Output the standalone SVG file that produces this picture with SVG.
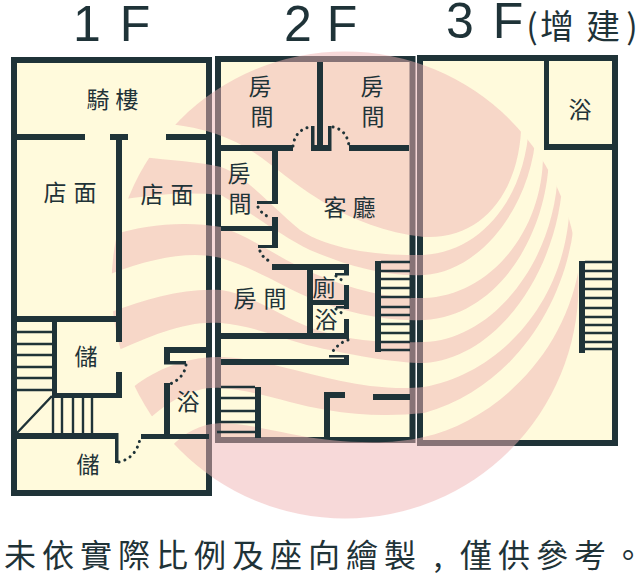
<svg xmlns="http://www.w3.org/2000/svg" width="640" height="573" viewBox="0 0 640 573">
<style>
.floor{fill:#FFFADC}
.outer{fill:none;stroke:#1F3338;stroke-width:6}
.w{fill:#1F3338}
.step{stroke:#1F3338;stroke-width:2.4;fill:none}
.dot{fill:none;stroke:#1F3338;stroke-width:3;stroke-linecap:round;stroke-dasharray:0.1 6}
.mark{fill:#F0B4B4;fill-opacity:.5}
.t{font-family:"Noto Sans CJK TC","Noto Sans CJK SC",sans-serif;font-weight:400;fill:#1F3338;font-size:23px;text-anchor:middle}
.h{font-family:"Liberation Sans",Arial,sans-serif;fill:#1F3338;font-size:50px;text-anchor:middle}
</style>
<defs><clipPath id="disc"><circle cx="345" cy="285" r="233.500"/></clipPath></defs>
<rect width="640" height="573" fill="#fff"/>
<g id="floors">
<rect class="floor" x="14" y="60" width="195" height="433"/>
<rect class="floor" x="218" y="59" width="194.500" height="381"/>
<rect class="floor" x="420" y="58" width="195" height="385"/>
<rect class="outer" x="14" y="60" width="195" height="433"/>
<rect class="outer" x="218" y="59" width="194.500" height="381"/>
<rect class="outer" x="420" y="58" width="195" height="385"/>
</g>
<g id="watermark" clip-path="url(#disc)">
<path class="mark" d="M100,122 L170,124 C205,128 235,138 262,158 C300,186 345,228 424,237 C490,240 525,180 521,110 L600,0 L100,0Z"/>
<path class="mark" d="M140,157 C170,160 200,162 221,167 C245,175 270,205 300,230 C330,250 380,256 424,255 C480,252 525,200 529,125 L536,130 C533,205 480,272 424,275 C385,277 345,265 310,250 C280,235 250,212 221,195 C190,192 160,194 125,199Z"/>
<path class="mark" d="M105,238 C135,226 180,220 221,227 C250,236 285,262 313,273 C345,287 385,299 424,298 C490,296 545,230 543,150 L549,150 C550,230 500,316 424,320 C385,322 345,312 310,298 C285,288 255,268 221,258 C190,250 150,258 105,276Z"/>
<path class="mark" d="M105,314 C145,300 180,288 221,290 C255,295 285,320 320,331 C355,342 390,343 424,342 C490,340 555,265 558,170 L563,170 C562,265 500,358 424,363 C395,363 350,355 307,345 C280,338 250,325 221,323 C185,320 150,336 105,356Z"/>
<path class="mark" d="M130,390 C150,372 185,356 221,357 C265,358 320,380 370,386 C390,388 405,389 424,387 C495,375 570,305 570,195 L575,195 C578,280 525,385 424,413 C395,416 360,416 327,410 C290,404 255,390 221,388 C195,386 170,400 148,420Z"/>
<path class="mark" d="M170,448 C185,432 200,424 221,423 C255,424 290,436 330,440 C360,443 395,444 424,437 C500,420 585,340 582,225 L600,225 L600,530 L170,530Z"/>
</g>
<g id="floor-1-walls">
<rect class="w" x="17" y="134" width="68" height="6"/>
<rect class="w" x="110" y="134" width="18" height="6"/>
<rect class="w" x="166" y="134" width="40" height="6"/>
<rect class="w" x="116" y="140" width="6" height="202"/>
<rect class="w" x="116" y="372" width="6" height="25"/>
<rect class="w" x="17" y="316" width="105" height="6"/>
<rect class="w" x="52" y="322" width="5" height="75"/>
<rect class="w" x="52" y="393" width="70" height="5"/>
<path class="step" d="M17,332H52M17,344H52M17,355H52M17,367H52M17,378H52M17,390H52"/>
<path class="step" d="M53,397V433M62,397V433M73,397V433M83,397V433M92,397V433M52,396L16,434"/>
<rect class="w" x="17" y="433" width="99" height="6"/>
<rect class="w" x="115" y="433" width="3.500" height="30"/>
<rect class="w" x="141" y="434" width="68" height="5"/>
<rect class="w" x="164" y="383" width="6" height="51"/>
<rect class="w" x="164" y="347" width="42" height="6"/>
<rect class="w" x="164" y="347" width="6" height="17"/>
<rect class="w" x="164" y="361" width="22" height="3.500"/>
<path class="dot" d="M119,462Q136,458 140,439"/>
<path class="dot" d="M186,365Q184,378 170,384"/>
</g>
<g id="floor-2-walls">
<rect class="w" x="317" y="62" width="6" height="88"/>
<rect class="w" x="311" y="126" width="3.500" height="25"/>
<rect class="w" x="328" y="126" width="3.500" height="25"/>
<rect class="w" x="311" y="145" width="20" height="6"/>
<rect class="w" x="221" y="145" width="72" height="6"/>
<rect class="w" x="349" y="145" width="60" height="6"/>
<path class="dot" d="M293,146Q295,130 310,127"/>
<path class="dot" d="M333,127Q347,130 349,146"/>
<rect class="w" x="272" y="151" width="6" height="52"/>
<rect class="w" x="257" y="201" width="21" height="3"/>
<path class="dot" d="M258,207Q262,215 272,218"/>
<rect class="w" x="272" y="217" width="6" height="31"/>
<rect class="w" x="221" y="226" width="52" height="5"/>
<rect class="w" x="258" y="245" width="20" height="3"/>
<path class="dot" d="M260,251Q263,259 272,262"/>
<rect class="w" x="272" y="264" width="77" height="6"/>
<rect class="w" x="307" y="270" width="6" height="64"/>
<rect class="w" x="313" y="300" width="36" height="5"/>
<rect class="w" x="344" y="264" width="5" height="11"/>
<rect class="w" x="335" y="273" width="14" height="2.500"/>
<rect class="w" x="344" y="285" width="5" height="24"/>
<rect class="w" x="336" y="306" width="13" height="2.500"/>
<rect class="w" x="344" y="319" width="5" height="20"/>
<rect class="w" x="221" y="333" width="128" height="6"/>
<rect class="w" x="329" y="355" width="20" height="2.500"/>
<rect class="w" x="344" y="355" width="5" height="10"/>
<rect class="w" x="221" y="359" width="128" height="6"/>
<path class="dot" d="M336,276Q342,279 344,284"/>
<path class="dot" d="M336,309Q342,312 344,317"/>
<path class="dot" d="M348,340Q338,343 331,354"/>
<rect class="w" x="375" y="261" width="6" height="91"/>
<path class="step" d="M381,262H410M381,271H410M381,279H410M381,288H410M381,297H411M381,307H410M381,315H410M381,324H410M381,333H410M381,342H410M381,350H410"/>
<rect class="w" x="255" y="387" width="6" height="51"/>
<path class="step" d="M221,387H255M221,398H255M221,411H255M221,422H255M217,432H255"/>
<rect class="w" x="324" y="392" width="6" height="46"/>
<rect class="w" x="324" y="392" width="21" height="6"/>
<rect class="w" x="373" y="394" width="37" height="6"/>
</g>
<g id="floor-3-walls">
<rect class="w" x="544" y="61" width="5" height="88"/>
<rect class="w" x="544" y="144" width="68" height="6"/>
<rect class="w" x="579" y="261" width="6" height="92"/>
<path class="step" d="M585,262H612M585,271H612M585,279H612M585,289H612M585,298H612M585,308H612M585,317H612M585,325H612M585,333H612M585,342H612M585,349H612"/>
</g>
<g id="labels">
<text class="h" x="87 135" y="41">1F</text>
<text class="h" x="298 342" y="41">2F</text>
<text class="h" x="460 508" y="38">3F</text>
<text class="t" style="font-size:34px" x="532 557 603 632" y="39">(增建)</text>
<text class="t" x="98 127" y="108">騎樓</text>
<text class="t" x="55 85" y="201">店面</text>
<text class="t" x="152 182" y="203">店面</text>
<text class="t" x="86" y="365">儲</text>
<text class="t" x="88" y="473">儲</text>
<text class="t" x="188" y="410">浴</text>
<text class="t" x="260 262" y="95 125">房間</text>
<text class="t" x="372 373" y="95 125">房間</text>
<text class="t" x="239 240" y="182 212">房間</text>
<text class="t" x="335 364" y="216">客廳</text>
<text class="t" x="245 275" y="307">房間</text>
<text class="t" x="324 326" y="296 328">廁浴</text>
<text class="t" x="580" y="118">浴</text>
<text class="t" style="font-size:32px" x="20 58 96 134 172 210 248 286 324 362 400 438 476 514 552 590 628" y="567">未依實際比例及座向繪製,僅供參考。</text>
</g>
</svg>
